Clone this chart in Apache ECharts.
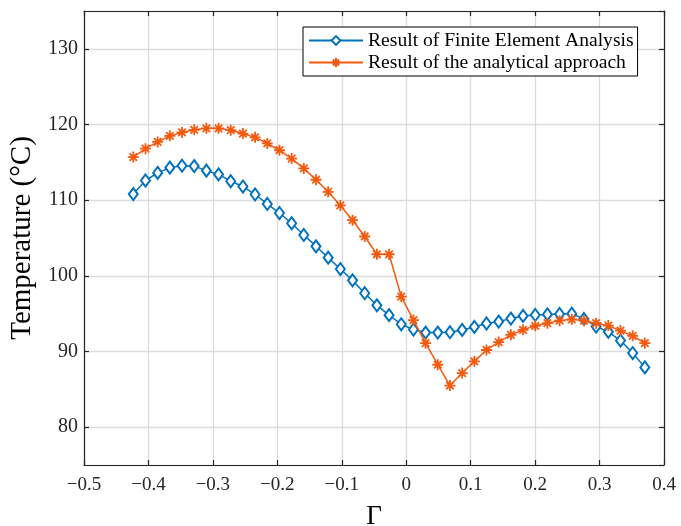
<!DOCTYPE html>
<html>
<head>
<meta charset="utf-8">
<script src="https://cdn.jsdelivr.net/npm/echarts@6/dist/echarts.min.js"></script>
<style>
  html, body { margin: 0; padding: 0; background: #fff; }
  #chart { width: 681px; height: 526px; }
</style>
</head>
<body>
<div id="chart"></div>
<script>
// Γ values (x)
const gammaValues = [
  -0.4235, -0.4046, -0.3857, -0.3668, -0.3479, -0.3290, -0.3101, -0.2912, -0.2723, -0.2534,
  -0.2345, -0.2156, -0.1967, -0.1778, -0.1589, -0.1400, -0.1211, -0.1022, -0.0833, -0.0644,
  -0.0455, -0.0266, -0.0077, 0.0112, 0.0301, 0.0490, 0.0679, 0.0868, 0.1057, 0.1246,
  0.1435, 0.1624, 0.1813, 0.2002, 0.2191, 0.2380, 0.2569, 0.2758, 0.2947, 0.3136,
  0.3325, 0.3514, 0.3703
];
// Result of Finite Element Analysis (°C)
const feaValues = [
  110.8, 112.6, 113.6, 114.3, 114.55, 114.5, 113.9, 113.4, 112.5, 111.8,
  110.75, 109.5, 108.3, 106.95, 105.4, 103.9, 102.4, 100.9, 99.4, 97.7,
  96.1, 94.8, 93.6, 92.9, 92.5, 92.5, 92.55, 92.85, 93.25, 93.7,
  93.95, 94.35, 94.7, 94.83, 94.9, 94.96, 95.0, 94.3, 93.3, 92.6,
  91.45, 89.8, 87.9
];
// Result of the analytical approach (°C)
const analyticalValues = [
  115.7, 116.8, 117.7, 118.5, 118.95, 119.3, 119.5, 119.5, 119.25, 118.8,
  118.3, 117.5, 116.6, 115.5, 114.2, 112.7, 111.1, 109.3, 107.35, 105.2,
  102.85, 102.85, 97.25, 94.15, 91.1, 88.25, 85.5, 87.15, 88.7, 90.2,
  91.25, 92.2, 92.86, 93.4, 93.74, 94.08, 94.25, 94.08, 93.74, 93.42,
  92.76, 92.07, 91.1
];
const seriesNames = ['Result of Finite Element Analysis', 'Result of the analytical approach'];
const xLabelName = 'Γ';
const yLabelName = 'Temperature (°C)';

const blue = '#0072BD';
const orange = '#F25A0F';
const font = '"Liberation Serif", "Times New Roman", serif';
const axisColor = '#262626';
const gridColor = '#dcdcdc';

function pairs(xs, ys) { return xs.map((x, i) => [x, ys[i]]); }
function fmtX(v) {
  if (Math.abs(v) < 1e-9) return '0';
  const s = Math.abs(v).toFixed(1);
  return v < 0 ? '\u2212' + s : s;
}

const asterisk = 'path://M5,0L5,10M0,5L10,5M1.6,1.6L8.4,8.4M1.6,8.4L8.4,1.6';

const chart = echarts.init(document.getElementById('chart'), null, { renderer: 'canvas' });
chart.setOption({
  animation: false,
  backgroundColor: '#fff',
  grid: { left: 84, right: 17, top: 11, bottom: 61, containLabel: false, outerBoundsMode: 'none' },
  legend: {
    orient: 'vertical',
    left: 303,
    top: 27,
    padding: [3, 4, 3, 5],
    itemGap: 1,
    itemWidth: 54,
    itemHeight: 11,
    backgroundColor: '#fff',
    borderColor: '#000',
    borderWidth: 1,
    textStyle: { fontFamily: font, fontSize: 19.6, color: '#000', lineHeight: 21 },
    data: seriesNames
  },
  xAxis: [{
    type: 'value',
    min: -0.5, max: 0.4, interval: 0.1,
    name: xLabelName,
    nameLocation: 'middle',
    nameGap: 38,
    nameTextStyle: { fontFamily: font, fontSize: 27, color: '#000' },
    axisLine: { show: true, onZero: false, lineStyle: { color: axisColor, width: 1.2 } },
    axisTick: { show: true, inside: true, length: 5, lineStyle: { color: axisColor, width: 1.2 } },
    axisLabel: { formatter: fmtX, fontFamily: font, fontSize: 19, color: '#262626', margin: 11 },
    splitLine: { show: true, lineStyle: { color: gridColor, width: 1.3 } }
  }, {
    type: 'value', position: 'top',
    min: -0.5, max: 0.4, interval: 0.1,
    axisLine: { show: true, onZero: false, lineStyle: { color: axisColor, width: 1.2 } },
    axisTick: { show: true, inside: true, length: 5, lineStyle: { color: axisColor, width: 1.2 } },
    axisLabel: { show: false },
    splitLine: { show: false }
  }],
  yAxis: [{
    type: 'value',
    min: 75, max: 135, splitNumber: 6,
    name: yLabelName,
    nameLocation: 'middle',
    nameGap: 36,
    nameTextStyle: { fontFamily: font, fontSize: 29, color: '#000' },
    axisLine: { show: true, onZero: false, lineStyle: { color: axisColor, width: 1.2 } },
    axisTick: { show: true, inside: true, length: 5, lineStyle: { color: axisColor, width: 1.2 } },
    axisLabel: { fontFamily: font, fontSize: 20, color: '#262626', margin: 6, showMinLabel: false, showMaxLabel: false },
    splitLine: { show: true, lineStyle: { color: gridColor, width: 1.3 } }
  }, {
    type: 'value', position: 'right',
    min: 75, max: 135, splitNumber: 6,
    axisLine: { show: true, onZero: false, lineStyle: { color: axisColor, width: 1.2 } },
    axisTick: { show: true, inside: true, length: 5, lineStyle: { color: axisColor, width: 1.2 } },
    axisLabel: { show: false },
    splitLine: { show: false }
  }],
  series: [{
    name: seriesNames[0],
    type: 'line',
    data: pairs(gammaValues, feaValues),
    symbol: 'emptyDiamond',
    symbolSize: [9, 12],
    showAllSymbol: true,
    lineStyle: { color: blue, width: 1.5 },
    itemStyle: { color: blue, borderColor: blue, borderWidth: 1.6 },
    z: 3
  }, {
    name: seriesNames[1],
    type: 'line',
    data: pairs(gammaValues, analyticalValues),
    symbol: asterisk,
    symbolSize: 11,
    showAllSymbol: true,
    lineStyle: { color: orange, width: 1.5 },
    itemStyle: { color: orange, borderColor: orange, borderWidth: 1.8 },
    z: 4
  }]
});
</script>
</body>
</html>
